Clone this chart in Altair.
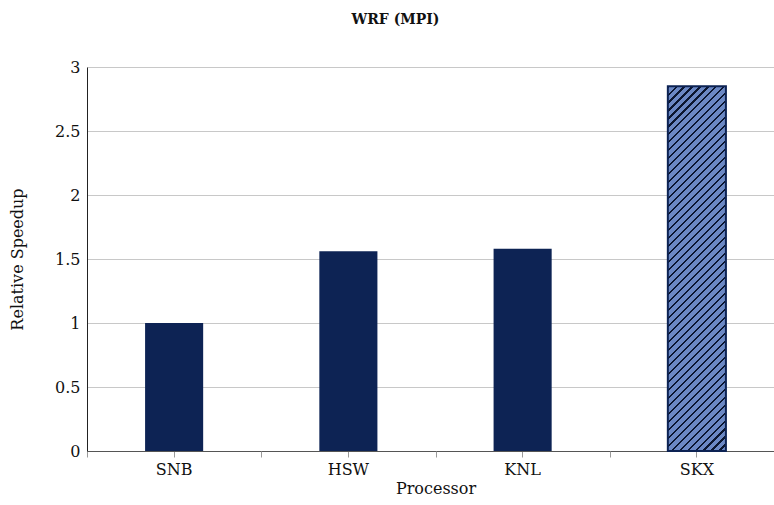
import altair as alt
import pandas as pd

# Relative speedup of WRF (MPI) per processor generation
processors = ["SNB", "HSW", "KNL", "SKX"]
speedup = [1.00, 1.56, 1.58, 2.85]
highlight = ["SKX"]

df = pd.DataFrame({"Processor": processors, "Speedup": speedup})

NAVY = "#0d2354"
HATCH_BG = "#6b88c4"
HATCH_LINE = "#0b1630"
SERIF = "DejaVu Serif"

PLOT_W = 687          # visible plot width
BAND_RANGE = 697      # full range of the band scale
PLOT_H = 384
Y_MAX = 3
BAR_FRAC = 1 / 3

# Diagonal hatching ("////") built as a hard-stop linear gradient.
bar_w = BAND_RANGE / len(processors) * BAR_FRAC
bar_h = max(speedup) * PLOT_H / Y_MAX
r = bar_h / bar_w
s = (1 + r) / (1 + r * r)
diag = (bar_w + bar_h) / 2 ** 0.5
period = 5.6
n = int(round(diag / period))
line_frac = 0.26
stops = []
for i in range(n):
    a = i / n
    b = (i + line_frac) / n
    c = (i + 1) / n
    stops += [
        alt.GradientStop(offset=a, color=HATCH_LINE),
        alt.GradientStop(offset=b, color=HATCH_LINE),
        alt.GradientStop(offset=b, color=HATCH_BG),
        alt.GradientStop(offset=c, color=HATCH_BG),
    ]
hatch = alt.LinearGradient(gradient="linear", stops=stops, x1=0, y1=0, x2=s, y2=s * r)

x_scale = alt.Scale(domain=processors, paddingInner=0, paddingOuter=0, range=[0, BAND_RANGE])
y_scale = alt.Scale(domain=[0, Y_MAX], nice=False)

x_main = alt.X(
    "Processor:N",
    scale=x_scale,
    sort=processors,
    axis=alt.Axis(
        orient="bottom",
        title="Processor",
        grid=False,
        labelAngle=0,
        tickSize=6,
        tickColor="#9a9a9a",
        domainColor="#555555",
        domainWidth=1.2,
        labelPadding=4,
        titlePadding=3,
    ),
)
x_bounds = alt.X(
    "Processor:N",
    scale=x_scale,
    sort=processors,
    axis=alt.Axis(
        orient="bottom",
        title=None,
        labels=False,
        domain=False,
        grid=False,
        tickBand="extent",
        tickSize=6,
        tickColor="#9a9a9a",
    ),
)
y_enc = alt.Y(
    "Speedup:Q",
    scale=y_scale,
    axis=alt.Axis(
        title="Relative Speedup",
        values=[0, 0.5, 1, 1.5, 2, 2.5, 3],
        format="~g",
        ticks=False,
        labelPadding=7,
        titlePadding=29,
        gridColor="#c8c8c8",
        domainColor="#222222",
    ),
)

plain = (
    alt.Chart(df)
    .transform_filter(~alt.FieldOneOfPredicate(field="Processor", oneOf=highlight))
    .mark_bar(color=NAVY, width=alt.RelativeBandSize(BAR_FRAC))
    .encode(x=x_main, y=y_enc)
)

hatched = (
    alt.Chart(df)
    .transform_filter(alt.FieldOneOfPredicate(field="Processor", oneOf=highlight))
    .mark_bar(fill=hatch, stroke=NAVY, strokeWidth=2, width=alt.RelativeBandSize(BAR_FRAC))
    .encode(x=x_bounds, y=y_enc)
)

chart = (
    alt.layer(plain, hatched)
    .resolve_axis(x="independent")
    .properties(
        width=PLOT_W,
        height=PLOT_H,
        autosize=alt.AutoSizeParams(type="none"),
        padding={"left": 87, "top": 67, "right": 0, "bottom": 54},
        title=alt.TitleParams(
            "WRF (MPI)",
            fontSize=14,
            fontWeight="bold",
            font=SERIF,
            color="#111111",
            anchor="middle",
            dx=-35,
            offset=32,
        ),
    )
    .configure_axis(
        labelFont=SERIF,
        titleFont=SERIF,
        labelFontSize=16,
        titleFontSize=16,
        titleFontWeight="normal",
        labelColor="#111111",
        titleColor="#111111",
    )
    .configure_view(stroke=None)
)

chart.save("out.html", embed_options={"renderer": "svg", "actions": False})
